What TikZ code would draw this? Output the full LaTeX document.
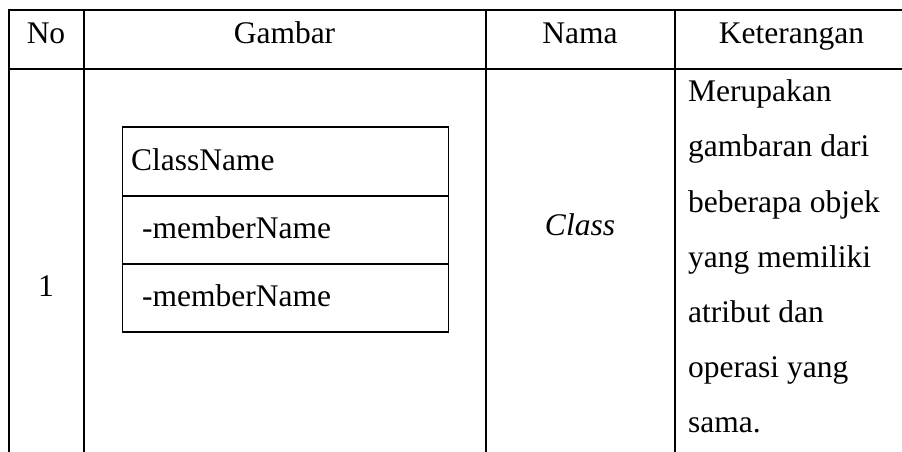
\documentclass[tikz,border=0pt]{standalone}
\usepackage{fontspec}
\setmainfont{Liberation Serif}
\begin{document}
\begin{tikzpicture}[x=1pt,y=-1pt,
  tline/.style={line width=2pt},
  bline/.style={line width=1.7pt},
  txt/.style={inner sep=0pt, font=\fontsize{31.5}{31.5}\selectfont},
]
\useasboundingbox (0,0) rectangle (902,452);
\fill[white] (0,0) rectangle (902,452);
% table rules
\draw[tline] (902,10) -- (9,10) -- (9,452);
\draw[tline] (9,69) -- (902,69);
\draw[tline] (83.5,10) -- (83.5,452);
\draw[tline] (486,10) -- (486,452);
\draw[tline] (674.5,10) -- (674.5,452);
% header
\node[txt, anchor=base] (hno) at (46,43.3) {No};
\node[txt, anchor=base] (hgam) at (284.5,43.3) {Gambar};
\node[txt, anchor=base] (hnama) at (580,43.3) {Nama};
\node[txt, anchor=base] (hket) at (791.5,43.3) {Keterangan};
% row 1
\node[txt, anchor=base] (no1) at (46,296.7) {1};
\node[txt, anchor=base] (nama1) at (580,235) {\itshape Class};
% class box
\draw[bline] (122.5,127) rectangle (448.5,332);
\draw[bline] (122.5,196) -- (448.5,196);
\draw[bline] (122.5,264) -- (448.5,264);
\node[txt, anchor=base west] (cname) at (131,170) {ClassName};
\node[txt, anchor=base west] (m1) at (142,238) {-memberName};
\node[txt, anchor=base west] (m2) at (142,306) {-memberName};
% keterangan
\node[txt, anchor=base west] (k1) at (688,101.7) {Merupakan};
\node[txt, anchor=base west] (k2) at (688,156.9) {gambaran dari};
\node[txt, anchor=base west] (k3) at (688,212) {beberapa objek};
\node[txt, anchor=base west] (k4) at (688,267.2) {yang memiliki};
\node[txt, anchor=base west] (k5) at (688,322.4) {atribut dan};
\node[txt, anchor=base west] (k6) at (688,377.5) {operasi yang};
\node[txt, anchor=base west] (k7) at (688,432.7) {sama.};
\end{tikzpicture}
\end{document}
